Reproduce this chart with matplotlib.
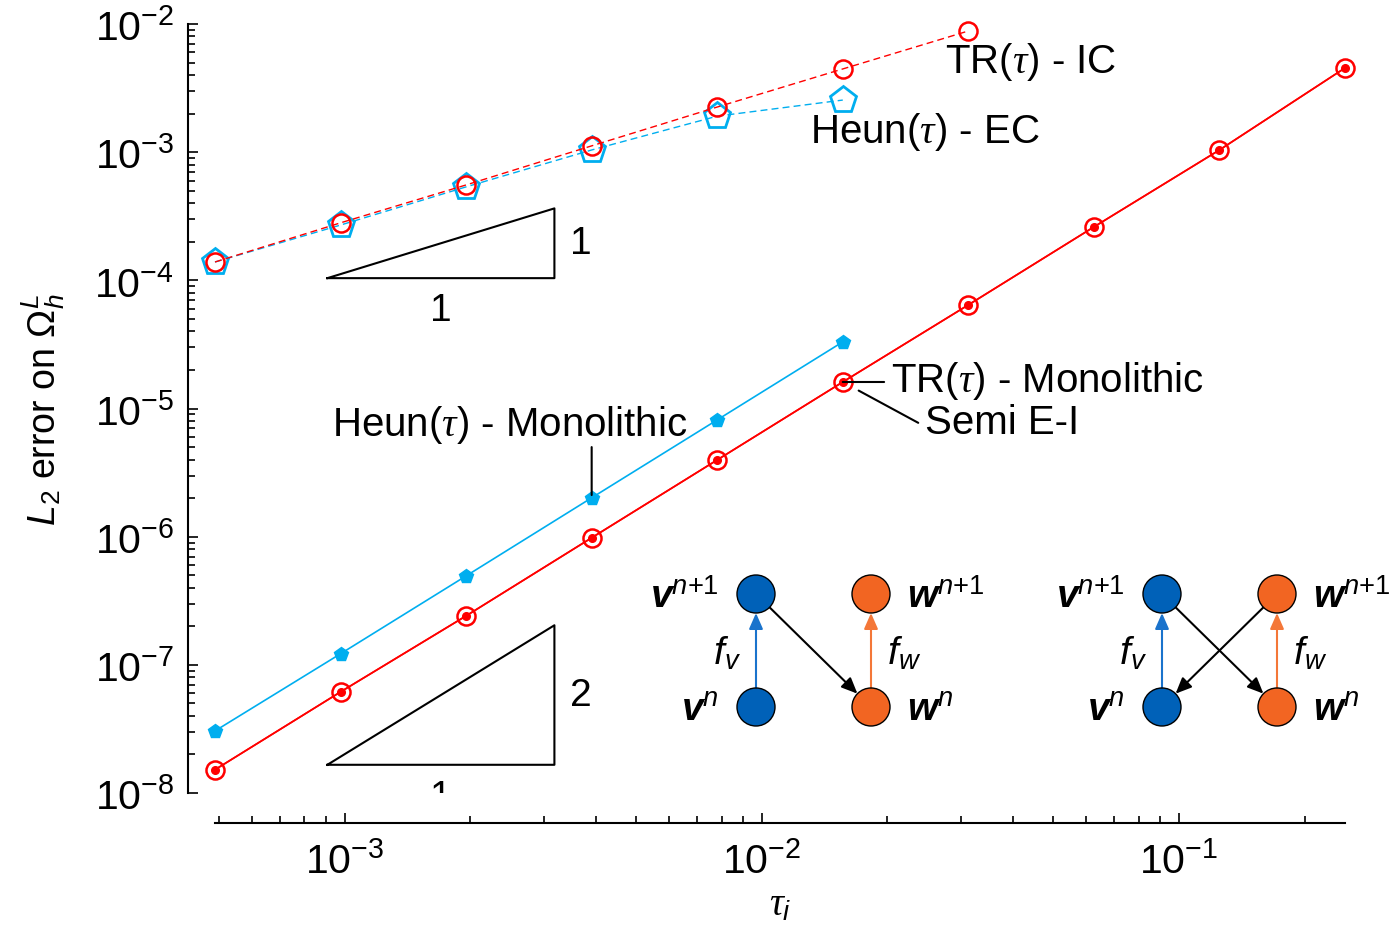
import matplotlib
matplotlib.use('Agg')
import matplotlib.pyplot as plt
from matplotlib.patches import Circle
from matplotlib.ticker import LogLocator, NullFormatter
import numpy as np

plt.rcParams['font.family'] = ['Liberation Sans', 'DejaVu Sans']
plt.rcParams['mathtext.fontset'] = 'custom'
plt.rcParams['mathtext.rm'] = 'Liberation Sans'
plt.rcParams['mathtext.it'] = 'Liberation Serif:italic'
plt.rcParams['mathtext.sf'] = 'Liberation Sans:italic'
plt.rcParams['mathtext.bf'] = 'Liberation Sans:italic:bold'

# time steps tau_i = 2^-11 ... 2^-2
tau = 2.0 ** np.arange(-11, -1)

tr_mono = [1.52e-8, 6.15e-8, 2.41e-7, 9.8e-7, 3.97e-6, 1.61e-5, 6.43e-5, 2.61e-4, 1.04e-3, 4.54e-3]
semi_ei = [1.52e-8, 6.15e-8, 2.41e-7, 9.8e-7, 3.97e-6, 1.61e-5, 6.43e-5, 2.61e-4, 1.04e-3, 4.54e-3]
heun_mono = [3.05e-8, 1.22e-7, 4.94e-7, 2.01e-6, 8.15e-6, 3.31e-5]
tr_ic = [1.39e-4, 2.81e-4, 5.55e-4, 1.12e-3, 2.25e-3, 4.46e-3, 8.82e-3]
heun_ec = [1.39e-4, 2.70e-4, 5.36e-4, 1.04e-3, 1.91e-3, 2.55e-3]

RED = '#ff0000'
CYAN = '#00aeef'

fig = plt.figure(figsize=(14, 9.29), dpi=100)
ax = fig.add_axes([215 / 1400, 1 - 794 / 929, 1130 / 1400, 769 / 929])
ax.set_xscale('log')
ax.set_yscale('log')

ax.plot(tau[:6], heun_ec, color=CYAN, lw=1, ls=(0, (5, 3)), marker='p', ms=20,
        mfc='none', mec=CYAN, mew=2, clip_on=False)
ax.plot(tau[:7], tr_ic, color=RED, lw=1, ls=(0, (5, 3)), marker='o', ms=13,
        mfc='none', mec=RED, mew=1.8, clip_on=False)
ax.plot(tau[:6], heun_mono, color=CYAN, lw=1.2, marker='p', ms=10,
        mfc=CYAN, mec=CYAN, clip_on=False)
ax.plot(tau, tr_mono, color=RED, lw=1.2, marker='.', ms=11,
        mfc=RED, mec=RED, clip_on=False)
ax.plot(tau, semi_ei, color=RED, lw=1.2, marker='o', ms=13,
        mfc='none', mec=RED, mew=1.8, clip_on=False)

ax.set_xlim(2.0 ** -11, 2.0 ** -2)
ax.set_ylim(1e-8, 1e-2)

# slope triangles
tri_x = [9.08e-4, 3.18e-3]
for y0, order in [(1.04e-4, 1), (1.66e-8, 2)]:
    x0, x1 = tri_x
    y1 = y0 * (x1 / x0) ** order
    ax.plot([x0, x1, x1, x0], [y0, y0, y1, y0], color='black', lw=1.5)
    ax.annotate(str(order), xy=(x1, np.sqrt(y0 * y1)), xytext=(11, 0),
                textcoords='offset points', ha='left', va='center', fontsize=28)
    t = ax.annotate('1', xy=(np.sqrt(x0 * x1), y0), xytext=(0, -10),
                    textcoords='offset points', ha='center', va='top', fontsize=28,
                    annotation_clip=False)
    t.set_clip_on(True)
    t.set_clip_box(ax.bbox)

# labels on the curves
fs = 29
ax.text(0.0275, 5.1e-3, r'TR($\tau$) - IC', fontsize=fs, ha='left', va='center')
ax.text(0.01306, 1.46e-3, r'Heun($\tau$) - EC', fontsize=fs, ha='left', va='center')
ax.text(9.33e-4, 7.59e-6, r'Heun($\tau$) - Monolithic', fontsize=fs, ha='left', va='center')
ax.annotate('', xy=(tau[3], heun_mono[3]), xytext=(tau[3], 5.0e-6),
            arrowprops=dict(arrowstyle='-', lw=1.5, color='black', shrinkA=0, shrinkB=2))
ax.text(0.0204, 1.67e-5, r'TR($\tau$) - Monolithic', fontsize=fs, ha='left', va='center')
ax.annotate('', xy=(tau[5], tr_mono[5]), xytext=(0.01963, tr_mono[5]),
            arrowprops=dict(arrowstyle='-', lw=1.5, color='black', shrinkA=0, shrinkB=0))
ax.text(0.02466, 7.86e-6, 'Semi E-I', fontsize=fs, ha='left', va='center')
ax.annotate('', xy=(tau[5], semi_ei[5]), xytext=(0.0237, 7.73e-6),
            arrowprops=dict(arrowstyle='-', lw=1.5, color='black', shrinkA=0, shrinkB=13))

# axes styling
for s in ['top', 'right']:
    ax.spines[s].set_visible(False)
ax.spines['left'].set_position(('outward', 19.5))
ax.spines['bottom'].set_position(('outward', 21.5))
ax.spines['left'].set_linewidth(1.5)
ax.spines['bottom'].set_linewidth(1.5)
ax.yaxis.set_major_locator(LogLocator(base=10, numticks=20))
ax.yaxis.set_minor_locator(LogLocator(base=10, subs=np.arange(2, 10), numticks=100))
ax.xaxis.set_minor_formatter(NullFormatter())
ax.yaxis.set_minor_formatter(NullFormatter())
ax.tick_params(which='both', direction='in', labelsize=29.5, width=1.2)
ax.tick_params(which='major', length=7.5)
ax.tick_params(which='minor', length=5)
ax.tick_params(axis='y', pad=10)
ax.tick_params(axis='x', pad=13)

ax.set_xlabel(r'$\tau_{\mathsf{i}}$', fontsize=28, labelpad=4)
ax.set_ylabel(r'$\mathsf{L}_2$ error on $\Omega_{\mathsf{h}}^{\mathsf{L}}$', fontsize=27, labelpad=20)

# coupling diagrams, drawn in figure pixels
ov = fig.add_axes([0, 0, 1, 1])
ov.set_xlim(0, 1400)
ov.set_ylim(929, 0)
ov.axis('off')

BLUE = '#0061b8'
ORANGE = '#f26522'
BLUE_AR = '#1a73cc'
ORANGE_AR = '#f47738'
r = 19
dx, dy = 115, 113
head = '-|>,head_length=0.8,head_width=0.35'


def arrow(p, q, color):
    ov.annotate('', xy=q, xytext=p,
                arrowprops=dict(arrowstyle=head, color=color, lw=1.5,
                                mutation_scale=12, shrinkA=13.7, shrinkB=13.7))


def diagram(x0, y0, cross):
    vn1, wn1 = (x0, y0), (x0 + dx, y0)
    vn, wn = (x0, y0 + dy), (x0 + dx, y0 + dy)
    arrow(vn, vn1, BLUE_AR)
    arrow(wn, wn1, ORANGE_AR)
    arrow(vn1, wn, 'black')
    if cross:
        arrow(wn1, vn, 'black')
    for (cx, cy), c in [(vn1, BLUE), (vn, BLUE), (wn1, ORANGE), (wn, ORANGE)]:
        ov.add_patch(Circle((cx, cy), r, facecolor=c, edgecolor='black', lw=1, zorder=3))
    lfs = 28
    ov.text(x0 - 37, y0 + 3, r'$\mathbf{v}^{\mathsf{n}\text{+1}}$', fontsize=lfs, ha='right', va='center')
    ov.text(x0 + dx + 36, y0 + 3, r'$\mathbf{w}^{\mathsf{n}\text{+1}}$', fontsize=lfs, ha='left', va='center')
    ov.text(x0 - 37, y0 + dy + 3, r'$\mathbf{v}^{\mathsf{n}}$', fontsize=lfs, ha='right', va='center')
    ov.text(x0 + dx + 36, y0 + dy + 3, r'$\mathbf{w}^{\mathsf{n}}$', fontsize=lfs, ha='left', va='center')
    ov.text(x0 - 15, y0 + dy / 2 + 2, r'$\mathsf{f}_{\mathsf{v}}$', fontsize=lfs, ha='right', va='center')
    ov.text(x0 + dx + 16, y0 + dy / 2 + 2, r'$\mathsf{f}_{\mathsf{w}}$', fontsize=lfs, ha='left', va='center')


diagram(756, 595, False)
diagram(1162, 595, True)

fig.savefig('out.png', dpi=100)
